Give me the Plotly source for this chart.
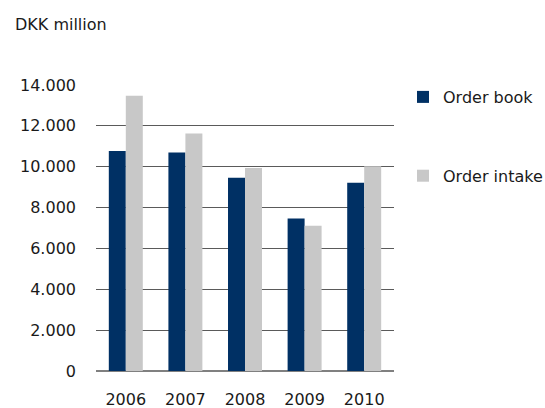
import plotly.graph_objects as go

years = ["2006", "2007", "2008", "2009", "2010"]
order_book = [10770, 10700, 9460, 7470, 9220]
order_intake = [13470, 11630, 9940, 7110, 10020]
y_ticks = [0, 2000, 4000, 6000, 8000, 10000, 12000, 14000]

FONT = "DejaVu Sans, Verdana, sans-serif"

fig = go.Figure()
fig.add_trace(go.Bar(name="Order book", x=years, y=order_book,
                     marker=dict(color="#003064", line=dict(width=0)),
                     legendgroup="a"))
fig.add_trace(go.Bar(name="Order intake", x=years, y=order_intake,
                     marker=dict(color="#c8c8c8", line=dict(width=0)),
                     legendgroup="b"))

fig.update_layout(
    width=545, height=408,
    margin=dict(l=96, r=151, t=85, b=37, autoexpand=False),
    paper_bgcolor="white", plot_bgcolor="white",
    separators=",.",
    barmode="group", bargap=0.43, bargroupgap=0,
    font=dict(family=FONT, size=16, color="#1a1a1a"),
    showlegend=True,
    legend=dict(xref="container", yref="container",
                x=403 / 545, xanchor="left", y=1 - 80 / 408, yanchor="top",
                tracegroupgap=55, font=dict(size=16),
                bgcolor="rgba(0,0,0,0)", traceorder="grouped"),
    xaxis=dict(showgrid=False, showline=False, ticks="", automargin=False,
               ticklabelstandoff=17, tickfont=dict(size=16)),
    yaxis=dict(range=[0, 14000], tickvals=y_ticks, tickformat=",.0f",
               showgrid=True, gridcolor="#5a5a5a", gridwidth=1,
               zeroline=True, zerolinecolor="#808080", zerolinewidth=2,
               showline=False, ticks="", ticklabelstandoff=19, automargin=False,
               tickfont=dict(size=16)),
    annotations=[dict(text="DKK million", xref="paper", yref="paper",
                      x=-0.2785, y=1.2098, xanchor="left", yanchor="middle",
                      showarrow=False, font=dict(size=16, family=FONT))],
)

fig.write_html("out.html")
